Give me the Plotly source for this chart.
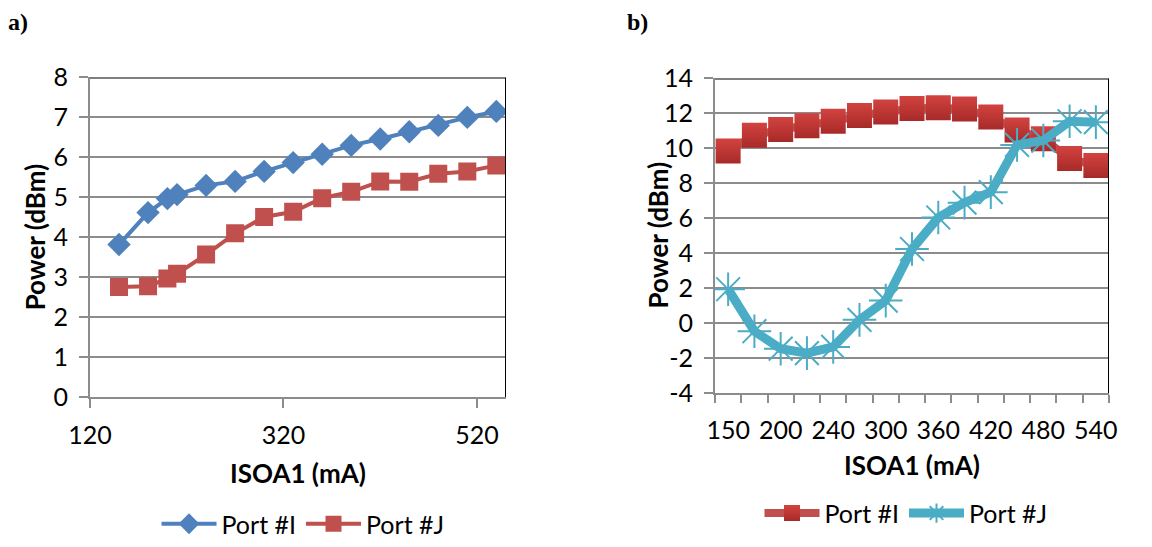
import plotly.graph_objects as go

# ---- data: panel a) ----
isoa_a = [150, 180, 200, 210, 240, 270, 300, 330, 360, 390, 420, 450, 480, 510, 540]
port_i_a = [3.82, 4.62, 4.97, 5.07, 5.30, 5.40, 5.65, 5.87, 6.08, 6.30, 6.46, 6.64, 6.80, 7.00, 7.15]
port_j_a = [2.76, 2.78, 2.97, 3.09, 3.57, 4.10, 4.51, 4.64, 4.98, 5.14, 5.40, 5.39, 5.59, 5.65, 5.80]

# ---- data: panel b) (category axis) ----
isoa_b = [150, 180, 200, 210, 240, 270, 300, 330, 360, 390, 420, 450, 480, 510, 540]
port_i_b = [9.85, 10.75, 11.08, 11.30, 11.55, 11.88, 12.08, 12.28, 12.33, 12.25, 11.80, 11.05, 10.55, 9.42, 9.02]
port_j_b = [1.95, -0.45, -1.45, -1.70, -1.35, 0.20, 1.30, 4.25, 6.05, 6.90, 7.50, 10.20, 10.45, 11.55, 11.50]
x_ticks_a = [120, 320, 520]
y_ticks_a = list(range(0, 9))
y_ticks_b = list(range(-4, 15, 2))

FONT = "Lato"
GRID = "#8c8c8c"
BLUE = "#4F81BD"
RED = "#C0504D"
CYAN = "#4BACC6"

idx_b = list(range(len(isoa_b)))

fig = go.Figure()

# panel a
fig.add_trace(go.Scatter(x=isoa_a, y=port_i_a, mode="lines+markers", name="Port #I",
                         line=dict(color=BLUE, width=4),
                         marker=dict(symbol="diamond", size=18, color=BLUE),
                         xaxis="x", yaxis="y", legend="legend"))
fig.add_trace(go.Scatter(x=isoa_a, y=port_j_a, mode="lines+markers", name="Port #J",
                         line=dict(color=RED, width=4),
                         marker=dict(symbol="square", size=18, color=RED),
                         xaxis="x", yaxis="y", legend="legend"))

# panel b
fig.add_trace(go.Scatter(x=idx_b, y=port_i_b, mode="lines+markers", name="Port #I",
                         line=dict(color=RED, width=8),
                         marker=dict(symbol="square", size=25, color="#D24340",
                                     gradient=dict(type="vertical", color="#A72A28")),
                         xaxis="x2", yaxis="y2", legend="legend2"))
fig.add_trace(go.Scatter(x=idx_b, y=port_j_b, mode="lines+markers", name="Port #J",
                         line=dict(color=CYAN, width=9),
                         marker=dict(symbol="asterisk-open", size=28,
                                     line=dict(color=CYAN, width=2)),
                         xaxis="x2", yaxis="y2", legend="legend2"))

tickfont = dict(family=FONT, size=25, color="black")

fig.update_layout(
    template="none",
    width=1152, height=547,
    margin=dict(l=0, r=0, t=0, b=0, pad=0),
    paper_bgcolor="white", plot_bgcolor="white",
    showlegend=True,
    xaxis=dict(domain=[90/1152, 506/1152], range=[120, 550], anchor="y", automargin=False,
               tickvals=x_ticks_a, ticks="outside", ticklen=9, tickcolor=GRID, tickwidth=2,
               showgrid=False, zeroline=False, showline=True, linecolor=GRID, linewidth=2,
               tickfont=tickfont, ticklabelstandoff=6),
    yaxis=dict(domain=[1-401.7/547, 1-78.3/547], range=[0, 8], anchor="x", automargin=False,
               tickvals=y_ticks_a, ticks="outside", ticklen=9, tickcolor=GRID, tickwidth=2,
               showgrid=True, gridcolor=GRID, gridwidth=2, zeroline=False,
               showline=True, linecolor=GRID, linewidth=2, tickfont=tickfont,
               ticklabelstandoff=6),
    xaxis2=dict(domain=[715/1152, 1109/1152], range=[-0.5, len(isoa_b)-0.5], anchor="y2",
                automargin=False,
                tickvals=idx_b[::2], ticktext=[str(v) for v in isoa_b[::2]], ticks="",
                minor=dict(tickvals=[i - 0.5 for i in range(len(isoa_b)+1)], ticks="outside",
                           ticklen=8, tickcolor=GRID, tickwidth=2, showgrid=False),
                showgrid=False, zeroline=False, showline=True, linecolor=GRID, linewidth=2,
                tickfont=tickfont, ticklabelstandoff=14),
    yaxis2=dict(domain=[1-397.7/547, 1-79.3/547], range=[-4, 14], anchor="x2", automargin=False,
                tickvals=y_ticks_b, ticktext=[str(v) for v in y_ticks_b],
                ticks="outside", ticklen=9, tickcolor=GRID, tickwidth=2,
                showgrid=True, gridcolor=GRID, gridwidth=2, zeroline=False,
                showline=True, linecolor=GRID, linewidth=2, tickfont=tickfont,
                ticklabelstandoff=6),
    legend=dict(orientation="h", x=303/1152, y=1-530/547, xanchor="center", yanchor="middle",
                font=dict(family=FONT, size=25, color="black"), itemwidth=55,
                bgcolor="rgba(0,0,0,0)", borderwidth=0),
    legend2=dict(orientation="h", x=906/1152, y=1-519/547, xanchor="center", yanchor="middle",
                 font=dict(family=FONT, size=25, color="black"), itemwidth=55,
                 bgcolor="rgba(0,0,0,0)", borderwidth=0),
)

# dark top/right borders of plot areas
for xr, yr, xa, ya in [((120, 550), (0, 8), "x", "y"),
                        ((-0.5, len(isoa_b)-0.5), (-4, 14), "x2", "y2")]:
    fig.add_shape(type="line", xref=xa, yref=ya, x0=xr[0], x1=xr[1], y0=yr[1], y1=yr[1],
                  line=dict(color="black", width=2))
    fig.add_shape(type="line", xref=xa, yref=ya, x0=xr[1], x1=xr[1], y0=yr[0], y1=yr[1],
                  line=dict(color="black", width=2))

bold = dict(family=FONT, size=26, color="black")
fig.add_annotation(text="<b>Power (dBm)</b>", x=35/1152, y=1-240/547, xref="paper", yref="paper",
                   textangle=-90, showarrow=False, font=bold, xanchor="center", yanchor="middle")
fig.add_annotation(text="<b>Power (dBm)</b>", x=658/1152, y=1-238/547, xref="paper", yref="paper",
                   textangle=-90, showarrow=False, font=bold, xanchor="center", yanchor="middle")
fig.add_annotation(text="<b>ISOA1 (mA)</b>", x=298/1152, y=1-478/547, xref="paper", yref="paper",
                   showarrow=False, font=bold, xanchor="center", yanchor="middle")
fig.add_annotation(text="<b>ISOA1 (mA)</b>", x=912/1152, y=1-470/547, xref="paper", yref="paper",
                   showarrow=False, font=bold, xanchor="center", yanchor="middle")
serif = dict(family="Liberation Serif", size=24, color="black")
fig.add_annotation(text="<b>a)</b>", x=6/1152, y=1-22/547, xref="paper", yref="paper",
                   showarrow=False, font=serif, xanchor="left", yanchor="middle")
fig.add_annotation(text="<b>b)</b>", x=625/1152, y=1-22/547, xref="paper", yref="paper",
                   showarrow=False, font=serif, xanchor="left", yanchor="middle")

fig.write_html("out.html")
